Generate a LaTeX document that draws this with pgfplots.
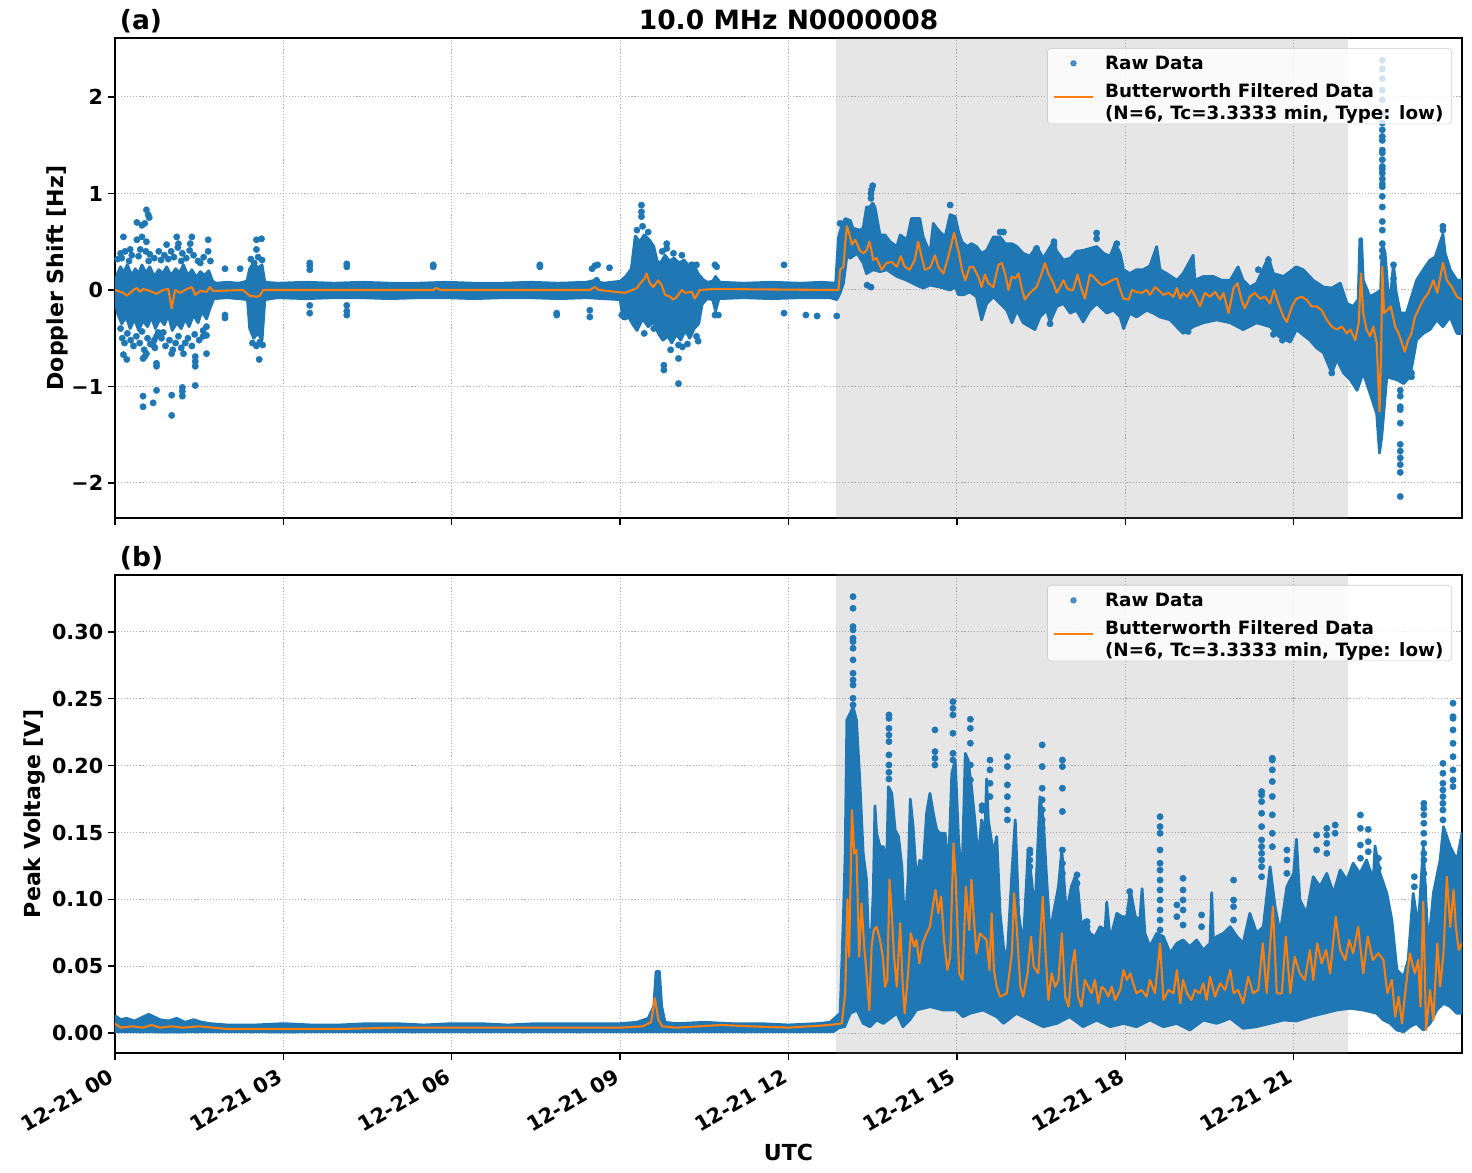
\documentclass[border=0pt]{standalone}
\usepackage{fontspec}
\setmainfont{DejaVu Sans}
\usepackage{pgfplots}
\pgfplotsset{compat=1.18}
\usepackage{pgfplotstable}

\definecolor{c0}{HTML}{1F77B4}
\definecolor{c1}{HTML}{FF7F0E}
\definecolor{gridc}{HTML}{B0B0B0}

\newcommand\tickfont{\fontsize{14.9pt}{17.9pt}\selectfont\bfseries}
\newcommand\labfont{\fontsize{15.9pt}{19pt}\selectfont\bfseries}
\newcommand\titfont{\fontsize{19.1pt}{23pt}\selectfont\bfseries}
\newcommand\legfont{\fontsize{13.2pt}{15.8pt}\selectfont\bfseries}

% Doppler shift: outline of the dense raw-data band
% (upper edge left to right, then lower edge right to left)
\pgfplotstableread{
x y
0.00 0.08
0.05 0.18
0.10 0.24
0.15 0.18
0.22 0.26
0.30 0.15
0.36 0.22
0.42 0.17
0.48 0.26
0.55 0.18
0.62 0.24
0.70 0.14
0.78 0.21
0.85 0.17
0.92 0.24
1.00 0.15
1.08 0.22
1.15 0.18
1.22 0.26
1.30 0.15
1.37 0.21
1.45 0.13
1.52 0.19
1.60 0.15
1.67 0.20
1.74 0.09
1.80 0.07
2.00 0.08
2.20 0.07
2.35 0.09
2.40 0.22
2.47 0.28
2.55 0.23
2.62 0.26
2.67 0.08
2.90 0.07
3.40 0.08
3.90 0.07
4.40 0.08
4.90 0.07
5.40 0.07
5.90 0.08
6.40 0.07
6.90 0.07
7.40 0.08
7.90 0.07
8.40 0.08
8.55 0.10
8.70 0.07
9.00 0.09
9.10 0.14
9.20 0.22
9.27 0.56
9.35 0.50
9.43 0.57
9.52 0.52
9.60 0.45
9.66 0.30
9.72 0.28
9.80 0.36
9.88 0.30
9.96 0.33
10.05 0.28
10.14 0.31
10.22 0.25
10.30 0.28
10.38 0.18
10.45 0.12
10.55 0.08
10.65 0.09
10.70 0.14
10.78 0.08
11.20 0.07
11.70 0.08
12.20 0.07
12.60 0.08
12.84 0.07
12.89 0.54
12.95 0.67
13.01 0.74
13.10 0.72
13.15 0.64
13.27 0.62
13.33 0.64
13.39 0.86
13.45 0.86
13.50 0.90
13.54 0.86
13.63 0.57
13.72 0.57
13.81 0.50
13.93 0.45
13.99 0.57
14.11 0.52
14.19 0.74
14.34 0.74
14.40 0.55
14.52 0.38
14.58 0.69
14.64 0.64
14.70 0.60
14.79 0.55
14.88 0.78
14.97 0.76
15.03 0.60
15.09 0.50
15.18 0.45
15.26 0.48
15.35 0.45
15.44 0.38
15.53 0.41
15.65 0.55
15.77 0.55
15.86 0.48
15.98 0.48
16.07 0.45
16.18 0.38
16.30 0.35
16.42 0.45
16.54 0.33
16.72 0.50
16.78 0.40
16.90 0.31
17.02 0.33
17.13 0.40
17.25 0.41
17.37 0.43
17.49 0.45
17.61 0.38
17.73 0.35
17.82 0.48
17.91 0.38
17.97 0.21
18.08 0.17
18.20 0.21
18.32 0.21
18.44 0.25
18.56 0.45
18.62 0.21
18.74 0.17
18.92 0.10
19.03 0.17
19.21 0.36
19.24 0.10
19.39 0.14
19.57 0.14
19.72 0.10
19.87 0.10
20.01 0.24
20.10 0.10
20.22 0.03
20.34 0.07
20.55 0.34
20.64 0.17
20.82 0.14
21.05 0.24
21.17 0.21
21.35 0.10
21.53 0.03
21.68 0.02
21.83 0.07
21.95 -0.14
22.06 -0.17
22.15 -0.10
22.18 0.53
22.21 0.53
22.24 0.10
22.36 -0.07
22.48 -0.03
22.55 0.00
22.58 0.48
22.63 0.38
22.68 0.00
22.72 -0.10
22.78 0.28
22.82 0.00
22.90 -0.24
23.01 -0.24
23.19 0.10
23.31 0.21
23.43 0.31
23.52 0.34
23.66 0.58
23.70 0.38
23.79 0.21
23.91 0.10
24.00 0.10
24.00 -0.45
23.91 -0.45
23.79 -0.28
23.66 -0.38
23.55 -0.31
23.43 -0.41
23.31 -0.45
23.19 -0.52
23.13 -0.72
23.07 -0.90
22.96 -0.97
22.84 -0.93
22.66 -0.90
22.57 -1.52
22.53 -1.69
22.48 -1.28
22.36 -1.07
22.24 -0.86
22.13 -1.04
22.01 -0.93
21.89 -0.86
21.77 -0.72
21.68 -0.86
21.53 -0.65
21.41 -0.60
21.29 -0.52
21.05 -0.41
20.94 -0.54
20.73 -0.48
20.58 -0.38
20.34 -0.34
20.10 -0.41
19.87 -0.34
19.63 -0.31
19.39 -0.34
19.21 -0.38
19.03 -0.45
18.80 -0.31
18.62 -0.28
18.50 -0.24
18.38 -0.21
18.20 -0.28
18.08 -0.24
17.97 -0.40
17.91 -0.28
17.79 -0.21
17.67 -0.24
17.49 -0.14
17.37 -0.21
17.25 -0.33
17.13 -0.21
17.02 -0.24
16.90 -0.14
16.78 -0.17
16.66 -0.33
16.60 -0.21
16.48 -0.28
16.39 -0.41
16.30 -0.38
16.18 -0.34
16.07 -0.21
15.98 -0.34
15.89 -0.21
15.77 -0.14
15.65 -0.07
15.53 -0.14
15.44 -0.31
15.35 -0.07
15.23 -0.02
15.12 -0.05
15.03 -0.05
14.97 0.03
14.88 0.00
14.70 0.03
14.52 0.05
14.40 0.02
14.28 0.05
14.11 0.10
13.93 0.14
13.75 0.21
13.63 0.19
13.51 0.21
13.39 0.17
13.33 0.28
13.22 0.38
13.10 0.33
13.04 0.35
12.98 0.07
12.92 -0.03
12.86 -0.10
12.74 -0.08
12.20 -0.08
11.70 -0.09
11.20 -0.08
10.76 -0.09
10.70 -0.22
10.65 -0.10
10.55 -0.09
10.46 -0.15
10.40 -0.35
10.32 -0.40
10.24 -0.50
10.16 -0.42
10.08 -0.52
10.00 -0.46
9.92 -0.55
9.85 -0.48
9.76 -0.52
9.68 -0.45
9.60 -0.33
9.50 -0.38
9.40 -0.30
9.30 -0.42
9.22 -0.35
9.12 -0.25
9.05 -0.30
9.00 -0.10
8.70 -0.09
8.40 -0.08
7.90 -0.09
7.40 -0.08
6.90 -0.08
6.40 -0.09
5.90 -0.08
5.40 -0.08
4.90 -0.09
4.40 -0.08
3.90 -0.08
3.40 -0.09
2.90 -0.08
2.67 -0.10
2.62 -0.52
2.55 -0.45
2.47 -0.50
2.40 -0.40
2.36 -0.10
2.20 -0.09
2.00 -0.08
1.76 -0.09
1.70 -0.18
1.63 -0.30
1.55 -0.22
1.48 -0.34
1.40 -0.26
1.32 -0.38
1.25 -0.30
1.18 -0.40
1.10 -0.34
1.02 -0.42
0.95 -0.26
0.88 -0.36
0.80 -0.30
0.72 -0.40
0.65 -0.28
0.58 -0.38
0.50 -0.32
0.42 -0.42
0.35 -0.30
0.27 -0.40
0.20 -0.28
0.12 -0.35
0.05 -0.25
0.00 -0.10
}\dopband

% Doppler shift: low-pass filtered series
\pgfplotstableread{
x y
0.00 0.00
0.15 -0.03
0.21 -0.06
0.33 0.00
0.39 0.02
0.45 -0.02
0.50 0.01
0.62 -0.01
0.74 -0.04
0.86 0.00
0.95 0.01
1.01 -0.19
1.07 0.00
1.16 -0.03
1.28 0.01
1.37 0.03
1.43 -0.05
1.52 -0.01
1.63 -0.02
1.69 0.03
1.75 -0.01
2.28 0.00
2.40 -0.06
2.52 -0.07
2.58 -0.06
2.64 0.00
5.67 0.00
5.72 0.02
5.80 0.00
8.46 0.00
8.55 0.03
8.62 0.00
9.09 -0.03
9.30 0.02
9.36 0.07
9.44 0.12
9.47 0.17
9.53 0.07
9.59 0.03
9.68 0.10
9.74 0.05
9.80 -0.05
9.89 -0.07
9.95 -0.10
10.01 -0.07
10.10 0.00
10.16 -0.03
10.28 -0.02
10.33 -0.09
10.42 0.00
10.69 0.01
12.74 0.00
12.89 0.00
12.92 0.21
12.98 0.24
13.01 0.48
13.04 0.66
13.10 0.55
13.13 0.47
13.19 0.52
13.27 0.41
13.33 0.38
13.39 0.41
13.44 0.50
13.48 0.40
13.51 0.31
13.57 0.33
13.66 0.21
13.75 0.28
13.84 0.29
13.93 0.24
14.00 0.35
14.07 0.24
14.16 0.21
14.25 0.31
14.31 0.50
14.37 0.35
14.43 0.21
14.52 0.23
14.61 0.36
14.67 0.24
14.76 0.17
14.85 0.35
14.95 0.59
15.03 0.40
15.09 0.21
15.15 0.10
15.23 0.24
15.29 0.24
15.38 0.14
15.44 0.03
15.50 0.16
15.56 0.07
15.65 0.03
15.74 0.26
15.80 0.28
15.86 0.17
15.92 0.00
15.98 0.14
16.04 0.12
16.10 0.17
16.15 0.03
16.21 -0.10
16.30 -0.03
16.42 0.03
16.51 0.17
16.57 0.28
16.63 0.17
16.72 0.07
16.78 -0.03
16.90 0.10
16.96 0.02
17.02 0.00
17.07 0.00
17.15 0.16
17.21 0.03
17.28 -0.09
17.37 0.16
17.43 0.14
17.49 0.10
17.58 0.05
17.67 0.07
17.76 0.10
17.85 0.12
17.91 0.00
17.97 -0.09
18.06 -0.10
18.12 0.00
18.20 -0.02
18.29 -0.03
18.38 0.00
18.44 -0.05
18.53 0.03
18.59 0.00
18.68 -0.05
18.77 -0.03
18.86 -0.07
18.92 0.02
18.98 -0.09
19.03 -0.03
19.10 -0.07
19.18 0.00
19.27 -0.09
19.33 -0.17
19.42 -0.03
19.51 -0.07
19.60 -0.02
19.69 -0.10
19.75 -0.03
19.84 -0.24
19.93 0.02
20.00 0.07
20.07 -0.10
20.13 -0.19
20.22 -0.07
20.31 -0.03
20.40 -0.09
20.49 -0.07
20.58 -0.14
20.65 0.00
20.73 -0.14
20.82 -0.28
20.88 -0.33
20.97 -0.17
21.05 -0.09
21.14 -0.07
21.23 -0.10
21.32 -0.17
21.41 -0.17
21.50 -0.21
21.59 -0.31
21.68 -0.38
21.77 -0.41
21.86 -0.38
21.95 -0.45
22.01 -0.41
22.10 -0.52
22.16 -0.34
22.20 0.17
22.24 -0.24
22.30 -0.41
22.36 -0.48
22.42 -0.38
22.48 -0.55
22.53 -1.26
22.56 -0.62
22.58 0.24
22.61 -0.24
22.67 -0.21
22.73 -0.17
22.81 -0.38
22.87 -0.45
22.93 -0.55
22.98 -0.64
23.04 -0.52
23.10 -0.45
23.16 -0.28
23.25 -0.17
23.31 -0.10
23.40 -0.03
23.49 0.10
23.56 -0.03
23.66 0.28
23.73 0.10
23.82 0.03
23.91 -0.07
24.00 -0.10
}\dopfilt

% Peak voltage: outline of the dense raw-data band
% (upper edge left to right, then lower edge right to left)
\pgfplotstableread{
x y
0.00 0.013
0.10 0.010
0.20 0.011
0.35 0.009
0.50 0.012
0.60 0.014
0.70 0.012
0.80 0.010
0.95 0.009
1.10 0.011
1.25 0.008
1.40 0.010
1.55 0.008
1.70 0.007
2.00 0.006
2.50 0.006
3.00 0.007
3.50 0.006
4.00 0.006
4.50 0.007
5.00 0.007
5.50 0.006
6.00 0.007
6.50 0.007
7.00 0.006
7.50 0.007
8.00 0.007
8.50 0.007
9.00 0.007
9.30 0.008
9.50 0.011
9.60 0.020
9.64 0.046
9.70 0.046
9.74 0.020
9.80 0.008
10.00 0.007
10.50 0.008
11.00 0.007
11.50 0.007
12.00 0.006
12.50 0.007
12.74 0.008
12.92 0.0147
12.98 0.0895
13.01 0.1344
13.04 0.2342
13.10 0.2392
13.15 0.2441
13.21 0.2342
13.27 0.1893
13.33 0.1344
13.39 0.1147
13.42 0.0770
13.48 0.0770
13.51 0.1045
13.54 0.1700
13.57 0.1494
13.63 0.1394
13.69 0.1394
13.75 0.1269
13.78 0.1843
13.84 0.1793
13.90 0.1519
13.96 0.1469
14.02 0.1244
14.07 0.0770
14.13 0.1147
14.17 0.1750
14.22 0.1544
14.28 0.1147
14.34 0.1294
14.40 0.1244
14.46 0.1644
14.52 0.1793
14.58 0.1644
14.64 0.1519
14.70 0.1494
14.79 0.1494
14.85 0.1219
14.91 0.1943
14.97 0.2042
15.03 0.1444
15.09 0.1147
15.15 0.2092
15.20 0.2042
15.26 0.1843
15.32 0.1594
15.38 0.1294
15.44 0.1594
15.50 0.1494
15.53 0.1900
15.56 0.1594
15.65 0.1344
15.71 0.1469
15.77 0.0895
15.83 0.0646
15.89 0.0521
15.98 0.1195
16.04 0.1594
16.10 0.0895
16.18 0.0646
16.27 0.1369
16.33 0.1147
16.39 0.0895
16.48 0.1768
16.54 0.1594
16.60 0.1147
16.66 0.0746
16.72 0.0895
16.81 0.1095
16.87 0.1369
16.95 0.0895
17.04 0.1095
17.13 0.1195
17.22 0.0795
17.28 0.0845
17.37 0.0746
17.46 0.0720
17.55 0.0795
17.64 0.0770
17.67 0.0980
17.73 0.0696
17.85 0.0895
17.94 0.0870
18.03 0.0870
18.09 0.1070
18.18 0.0870
18.26 0.0845
18.30 0.1080
18.35 0.0746
18.44 0.0646
18.56 0.0746
18.68 0.0721
18.80 0.0596
18.92 0.0671
19.03 0.0696
19.15 0.0646
19.27 0.0696
19.39 0.0621
19.51 0.0671
19.54 0.1050
19.57 0.0700
19.63 0.0721
19.75 0.0746
19.87 0.0795
19.99 0.0721
20.10 0.0671
20.22 0.0895
20.34 0.0746
20.46 0.0795
20.58 0.1244
20.67 0.0945
20.76 0.0746
20.88 0.1094
21.00 0.1194
21.05 0.1450
21.11 0.0995
21.23 0.0895
21.35 0.1169
21.47 0.1094
21.59 0.1194
21.71 0.1045
21.83 0.1219
21.95 0.1144
22.06 0.1270
22.18 0.1194
22.30 0.1294
22.42 0.1144
22.45 0.1400
22.54 0.1194
22.66 0.1045
22.75 0.0845
22.84 0.0471
22.96 0.0421
23.04 0.0546
23.13 0.1045
23.22 0.0795
23.31 0.1394
23.40 0.0646
23.49 0.1045
23.61 0.1294
23.67 0.1543
23.79 0.1394
23.91 0.1294
24.00 0.1494
24.00 0.0147
23.91 0.0147
23.79 0.0197
23.67 0.0222
23.55 0.0172
23.43 0.0072
23.31 0.0022
23.19 0.0072
23.07 0.0047
22.96 0.0010
22.84 0.0022
22.72 0.0072
22.60 0.0097
22.48 0.0147
22.24 0.0172
22.01 0.0185
21.77 0.0172
21.53 0.0147
21.29 0.0122
21.05 0.0090
20.82 0.0097
20.58 0.0072
20.34 0.0047
20.10 0.0035
19.87 0.0110
19.63 0.0072
19.39 0.0097
19.15 0.0022
18.92 0.0072
18.68 0.0047
18.44 0.0097
18.20 0.0047
17.97 0.0072
17.73 0.0047
17.49 0.0097
17.25 0.0047
17.01 0.0122
16.78 0.0072
16.54 0.0047
16.30 0.0097
16.06 0.0147
15.83 0.0072
15.71 0.0122
15.47 0.0172
15.23 0.0147
15.11 0.0122
14.99 0.0172
14.76 0.0172
14.52 0.0197
14.28 0.0172
14.16 0.0097
14.04 0.0047
13.93 0.0147
13.69 0.0072
13.57 0.0097
13.45 0.0047
13.33 0.0072
13.22 0.0172
13.10 0.0147
13.00 0.0047
12.90 0.0040
12.80 0.0010
12.00 0.0009
11.00 0.0010
10.00 0.0009
9.00 0.0010
8.00 0.0010
7.00 0.0009
6.00 0.0010
5.00 0.0009
4.00 0.0010
3.00 0.0008
2.00 0.0010
1.00 0.0008
0.00 0.0010
}\volband

% Peak voltage: low-pass filtered series
\pgfplotstableread{
x y
0.00 0.0070
0.10 0.0040
0.30 0.0050
0.50 0.0040
0.65 0.0060
0.80 0.0040
1.00 0.0050
1.20 0.0040
1.50 0.0050
2.00 0.0030
3.00 0.0030
4.00 0.0030
5.00 0.0040
6.00 0.0040
7.00 0.0040
8.00 0.0040
9.00 0.0040
9.40 0.0050
9.55 0.0080
9.62 0.0260
9.68 0.0100
9.75 0.0050
10.00 0.0040
10.80 0.0060
11.30 0.0050
12.00 0.0040
12.74 0.0060
12.95 0.0072
13.01 0.0297
13.05 0.1000
13.08 0.0571
13.13 0.1668
13.17 0.1344
13.21 0.1369
13.26 0.0571
13.30 0.0970
13.35 0.0646
13.39 0.0446
13.44 0.0172
13.48 0.0646
13.52 0.0770
13.57 0.0795
13.63 0.0696
13.68 0.0571
13.72 0.0346
13.76 0.0397
13.80 0.1147
13.84 0.0895
13.88 0.0571
13.93 0.0346
13.99 0.0821
14.03 0.0397
14.07 0.0147
14.13 0.0446
14.18 0.0746
14.24 0.0646
14.28 0.0696
14.33 0.0521
14.39 0.0671
14.46 0.0746
14.52 0.0795
14.57 0.0945
14.62 0.1070
14.67 0.0895
14.72 0.1020
14.77 0.0696
14.83 0.0471
14.88 0.0571
14.94 0.1419
14.98 0.1147
15.04 0.0446
15.10 0.0397
15.16 0.1095
15.22 0.0770
15.26 0.1147
15.30 0.0870
15.35 0.0596
15.41 0.0746
15.47 0.0720
15.53 0.0696
15.58 0.0471
15.62 0.0895
15.66 0.0471
15.71 0.0346
15.77 0.0272
15.89 0.0297
15.98 0.0596
16.02 0.1045
16.07 0.0770
16.13 0.0346
16.18 0.0272
16.26 0.0446
16.32 0.0720
16.37 0.0496
16.45 0.0446
16.53 0.1020
16.57 0.0671
16.63 0.0247
16.69 0.0446
16.75 0.0346
16.81 0.0397
16.87 0.0746
16.93 0.0272
16.99 0.0197
17.05 0.0496
17.10 0.0621
17.16 0.0272
17.22 0.0197
17.28 0.0397
17.34 0.0346
17.40 0.0297
17.46 0.0397
17.52 0.0222
17.58 0.0346
17.64 0.0322
17.70 0.0272
17.76 0.0346
17.82 0.0247
17.91 0.0322
17.97 0.0471
18.03 0.0397
18.09 0.0446
18.14 0.0372
18.20 0.0297
18.29 0.0322
18.38 0.0272
18.44 0.0397
18.53 0.0297
18.62 0.0671
18.68 0.0247
18.77 0.0322
18.86 0.0297
18.92 0.0471
18.98 0.0222
19.03 0.0397
19.10 0.0297
19.18 0.0247
19.24 0.0322
19.33 0.0297
19.39 0.0372
19.45 0.0247
19.51 0.0421
19.60 0.0272
19.69 0.0372
19.78 0.0322
19.87 0.0471
19.93 0.0297
20.01 0.0322
20.10 0.0222
20.19 0.0421
20.28 0.0297
20.37 0.0322
20.45 0.0671
20.52 0.0297
20.63 0.0945
20.70 0.0297
20.79 0.0297
20.86 0.0721
20.94 0.0297
21.02 0.0571
21.11 0.0446
21.20 0.0397
21.29 0.0621
21.35 0.0397
21.42 0.0671
21.50 0.0521
21.58 0.0621
21.65 0.0446
21.75 0.0870
21.83 0.0621
21.92 0.0546
21.99 0.0696
22.06 0.0596
22.15 0.0795
22.24 0.0446
22.32 0.0721
22.41 0.0546
22.51 0.0596
22.60 0.0546
22.67 0.0297
22.75 0.0397
22.81 0.0122
22.87 0.0272
22.93 0.0072
22.98 0.0272
23.07 0.0596
23.16 0.0446
23.22 0.0546
23.26 0.0197
23.31 0.0982
23.36 0.0022
23.43 0.0322
23.49 0.0097
23.56 0.0671
23.61 0.0347
23.67 0.0596
23.73 0.1169
23.79 0.0795
23.85 0.1070
23.89 0.0795
23.94 0.0621
24.00 0.0671
}\volfilt

\pgfplotsset{
  panel/.style={
    scale only axis, width=969.84pt,
    xmin=0, xmax=24, xtick={0,3,...,21},
    axis line style={line width=1.1pt},
    grid=major,
    major grid style={gridc, line width=0.7pt, dash pattern=on 0.8pt off 1.4pt},
    tick align=outside, xtick pos=left, ytick pos=left,
    major tick length=5pt,
    every tick/.style={black, line width=1pt},
    tick label style={font=\tickfont},
    label style={font=\labfont},
    legend cell align=left,
    legend style={at={(rel axis cs:1,1)}, anchor=north east,
      xshift=-7.2pt, yshift=-7.2pt,
      draw=black!20, fill=white, fill opacity=0.8, text opacity=1,
      rounded corners=2.5pt, font=\legfont,
      inner xsep=4pt, inner ysep=3.3pt, row sep=4pt,
      /tikz/every odd column/.append style={column sep=6pt}},
  },
  band/.style={fill=c0, draw=c0, line width=2pt, line join=round, forget plot},
  raw/.style={only marks, mark=*, mark size=2.3pt, c0,
    mark options={fill=c0, draw=c0, line width=0.3pt}, forget plot},
  filt/.style={c1, line width=1.5pt, line join=round, forget plot},
  span/.style={fill=gray, fill opacity=0.2, draw=none, forget plot},
}

\newcommand\legendrows{%
  \addlegendimage{legend image code/.code={\fill[c0] (14pt,0pt) circle (2pt);}}
  \addlegendentry{Raw Data}
  \addlegendimage{legend image code/.code={\draw[c1, line width=1.5pt] (0pt,1.5pt) -- (28pt,1.5pt);}}
  \addlegendentry{\begin{tabular}{@{}l@{}}Butterworth Filtered Data\\(N=6, Tc=3.3333 min, Type: low)\rule[-13.5pt]{0pt}{13.5pt}\end{tabular}}
}

\begin{document}
\begin{tikzpicture}
\useasboundingbox (-82.8pt,27.36pt) rectangle (977.04pt,-816.48pt);

% ===================== (a) Doppler shift =====================
\begin{axis}[panel, name=top, at={(0pt,0pt)}, anchor=north west,
  height=345.6pt, ymin=-2.363, ymax=2.611,
  ytick={-2,-1,0,1,2}, yticklabels={−2,−1,0,1,2},
  xticklabels={},
  ylabel={Doppler Shift [Hz]},
  ylabel style={yshift=-4.5pt}]

\addplot[span] coordinates {(12.85,-3) (21.97,-3) (21.97,3) (12.85,3)};

\addplot[band] table {\dopband};

\addplot[raw] coordinates {
(0.15,0.55)(0.56,0.83)(0.59,0.78)(0.61,0.75)(0.39,0.70)(0.48,0.67)(0.53,0.69)
(0.48,0.55)(0.56,0.50)(0.39,0.52)(0.92,0.47)(1.13,0.48)(1.34,0.48)(1.37,0.55)
(1.10,0.55)(1.66,0.52)(2.52,0.52)(2.61,0.53)(2.52,0.42)(1.96,0.22)(2.23,0.22)
(0.10,0.38)(0.12,0.33)(0.18,0.40)(0.27,0.42)(0.30,0.36)(0.42,0.35)(0.45,0.42)
(0.55,0.40)(0.62,0.37)(0.70,0.33)(0.78,0.40)(0.82,0.31)(0.88,0.36)(1.00,0.40)
(1.05,0.34)(1.12,0.44)(1.20,0.38)(1.27,0.33)(1.33,0.41)(1.40,0.36)(1.48,0.30)
(1.58,0.34)(1.66,0.40)(1.70,0.30)(0.25,0.30)(0.60,0.30)(0.95,0.32)(1.18,0.30)
(1.52,0.28)(0.05,0.32)
(2.42,0.32)(2.48,0.28)(2.55,0.34)(2.62,0.31)(2.45,-0.55)(2.52,-0.58)(2.58,-0.54)
(2.63,-0.57)(2.57,-0.72)
(0.15,-0.67)(0.21,-0.72)(0.50,-0.71)(0.53,-0.69)(0.56,-0.66)(0.74,-0.76)(0.74,-0.79)
(0.68,-0.57)(0.71,-0.60)(1.01,-0.66)(1.22,-0.66)(1.43,-0.69)(1.43,-0.74)(1.43,-0.79)
(1.63,-0.66)(0.50,-1.10)(0.50,-1.21)(0.68,-1.17)(0.74,-1.04)(1.01,-1.09)(1.01,-1.30)
(1.20,-1.01)(1.20,-1.05)(1.20,-1.10)(1.43,-0.99)(1.63,-0.47)(1.57,-0.48)(0.74,-0.48)
(0.80,-0.45)(0.86,-0.44)(1.96,-0.26)(1.96,-0.29)
(0.10,-0.40)(0.13,-0.50)(0.17,-0.55)(0.22,-0.45)(0.28,-0.52)(0.33,-0.58)(0.38,-0.48)
(0.44,-0.55)(0.48,-0.43)(0.52,-0.62)(0.58,-0.50)(0.63,-0.56)(0.70,-0.52)(0.77,-0.44)
(0.83,-0.50)(0.90,-0.58)(0.97,-0.52)(1.03,-0.62)(1.08,-0.55)(1.13,-0.48)(1.18,-0.60)
(1.25,-0.55)(1.30,-0.50)(1.37,-0.58)(1.42,-0.46)(1.50,-0.52)(1.57,-0.42)(1.63,-0.38)
(3.47,0.28)(3.47,0.21)(3.47,0.25)(3.47,-0.16)(3.47,-0.24)(4.13,0.24)(4.13,0.27)
(4.13,-0.16)(4.13,-0.22)(4.13,-0.26)(5.67,0.24)(5.67,0.26)(7.57,0.24)(7.57,0.26)
(7.87,-0.26)(7.87,-0.24)(8.46,-0.21)(8.46,-0.28)(8.50,0.22)(8.55,0.25)(8.60,0.26)
(8.81,0.23)(8.58,0.10)
(9.03,-0.26)(9.09,-0.28)(9.12,-0.17)(9.38,0.88)(9.38,0.81)(9.38,0.76)(9.40,0.66)
(9.30,0.62)(9.50,0.60)(9.83,0.48)(9.83,0.43)(9.75,0.40)(9.95,0.38)(10.10,0.36)
(10.27,0.26)(10.36,0.26)(10.42,0.12)(9.43,-0.45)(10.04,-0.57)(10.11,-0.59)
(9.78,-0.78)(9.78,-0.83)(10.04,-0.71)(10.04,-0.97)(10.36,-0.48)(10.39,-0.53)
(10.69,0.26)(10.72,0.24)(10.69,-0.26)(10.75,-0.26)(9.60,-0.40)(9.90,-0.62)(10.20,-0.56)
(11.92,0.26)(11.92,-0.24)(12.31,-0.26)(12.51,-0.27)(12.86,-0.27)(12.92,0.69)
(13.47,0.95)(13.47,1.00)(13.48,1.04)(13.50,1.08)(14.88,0.88)(15.77,0.60)(15.83,0.60)
(16.42,0.43)(16.73,0.50)(16.73,0.47)(17.49,0.59)(17.49,0.53)(17.85,0.48)(13.40,0.05)
(13.47,0.03)(14.82,0.03)(16.66,-0.35)(19.18,-0.36)(19.12,-0.43)(20.64,-0.46)
(20.80,-0.52)(23.10,-0.86)(23.10,-0.90)(21.68,-0.74)(21.68,-0.86)(20.55,0.31)
(20.37,0.21)(22.78,0.26)(22.78,0.12)(23.66,0.66)(23.66,0.62)
(22.58,2.38)(22.58,2.29)(22.58,2.19)(22.58,2.07)(22.58,1.97)(22.58,1.83)(22.58,1.73)
(22.58,1.66)(22.58,1.59)(22.58,1.55)(22.58,1.45)(22.58,1.42)(22.58,1.35)(22.58,1.28)
(22.58,1.25)(22.58,1.21)(22.58,1.15)(22.58,1.10)(22.58,1.07)(22.58,0.97)(22.58,0.86)
(22.58,0.71)(22.58,0.62)(22.58,0.48)(22.58,0.41)(22.58,0.34)
(22.90,-1.04)(22.90,-1.10)(22.90,-1.21)(22.90,-1.24)(22.90,-1.38)(22.90,-1.60)
(22.90,-1.67)(22.90,-1.74)(22.90,-1.81)(22.90,-1.89)(22.90,-2.14)
};

\addplot[filt] table {\dopfilt};
\legendrows
\end{axis}
\node[anchor=base west, font=\titfont, yshift=5.8pt] at (top.north west) {(a)};
\node[anchor=base, font=\titfont, yshift=5.8pt] at (top.north) {10.0 MHz N0000008};

% ===================== (b) Peak voltage =====================
\begin{axis}[panel, name=bot, at={(0pt,-386.64pt)}, anchor=north west,
  height=344.16pt, ymin=-0.01496, ymax=0.3426,
  ytick={0,0.05,0.10,0.15,0.20,0.25,0.30},
  yticklabels={0.00,0.05,0.10,0.15,0.20,0.25,0.30},
  xticklabels={12-21 00,12-21 03,12-21 06,12-21 09,12-21 12,12-21 15,12-21 18,12-21 21},
  xticklabel style={rotate=30, anchor=north east, xshift=-4pt, yshift=1pt},
  ylabel={Peak Voltage [V]},
  ylabel style={yshift=-2pt},
  xlabel={UTC}]

\addplot[span] coordinates {(12.85,-1) (21.97,-1) (21.97,1) (12.85,1)};

\addplot[band] table {\volband};

\addplot[raw] coordinates {
(13.15,0.3264)(13.15,0.3177)(13.15,0.3040)(13.15,0.3015)(13.15,0.2953)(13.15,0.2928)
(13.15,0.2878)(13.15,0.2791)(13.15,0.2691)(13.15,0.2641)(13.15,0.2603)(13.15,0.2504)
(13.15,0.2454)
(13.79,0.2379)(13.79,0.2354)(13.79,0.2279)(13.79,0.2229)(13.79,0.2180)(13.79,0.2080)
(13.79,0.2005)(13.79,0.1950)(13.79,0.1900)
(14.61,0.2267)(14.61,0.2105)(14.61,0.2055)(14.61,0.2005)
(14.93,0.2479)(14.93,0.2429)(14.93,0.2379)(14.93,0.2242)(14.93,0.2092)(14.93,0.2042)
(15.24,0.2347)(15.24,0.2279)(15.24,0.2168)(15.24,0.2005)(15.24,0.1893)
(15.45,0.1666)(15.45,0.1700)
(15.59,0.2042)(15.59,0.1968)(15.59,0.1868)(15.59,0.1768)
(15.90,0.2067)(15.90,0.1993)(15.90,0.1856)(15.90,0.1768)(15.90,0.1669)(15.90,0.1594)
(16.30,0.1369)(16.30,0.1344)(16.30,0.1294)(16.30,0.1244)
(16.52,0.2155)(16.52,0.1993)(16.52,0.1831)(16.52,0.1744)(16.52,0.1669)(16.52,0.1594)
(16.52,0.1532)
(16.88,0.2042)(16.88,0.1993)(16.88,0.1831)(16.88,0.1657)(16.88,0.1369)(16.88,0.1269)
(16.88,0.1195)
(17.14,0.1183)(17.14,0.1120)(17.32,0.0833)(17.32,0.0795)(18.08,0.1058)(18.08,0.0933)
(18.62,0.1618)(18.62,0.1544)(18.62,0.1494)(18.62,0.1369)(18.62,0.1270)(18.62,0.1219)
(18.62,0.1144)(18.62,0.1070)(18.62,0.0995)(18.62,0.0920)(18.62,0.0845)(18.62,0.0771)
(19.03,0.1157)(19.03,0.1070)(19.03,0.0995)(19.03,0.0920)(19.03,0.0808)
(18.92,0.0958)(18.92,0.0870)(19.36,0.0883)(19.36,0.0795)
(19.93,0.1144)(19.93,0.0995)(19.93,0.0945)(19.93,0.0845)
(20.43,0.1806)(20.43,0.1781)(20.43,0.1731)(20.43,0.1644)(20.43,0.1544)(20.43,0.1444)
(20.43,0.1394)(20.43,0.1344)(20.43,0.1294)(20.43,0.1244)(20.43,0.1169)
(20.62,0.2055)(20.62,0.2042)(20.62,0.1968)(20.62,0.1881)(20.62,0.1769)(20.62,0.1632)
(20.62,0.1494)(20.62,0.1394)
(20.88,0.1369)(20.88,0.1294)(20.88,0.1194)
(21.41,0.1481)(21.41,0.1369)
(21.59,0.1531)(21.59,0.1481)(21.59,0.1419)(21.59,0.1344)
(21.74,0.1556)(21.74,0.1494)
(22.19,0.1631)(22.19,0.1531)(22.19,0.1406)(22.19,0.1307)
(22.33,0.1523)(22.33,0.1431)(22.33,0.1356)
(22.51,0.1307)(22.51,0.1232)
(23.15,0.1169)(23.15,0.1094)
(23.32,0.1718)(23.32,0.1681)(23.32,0.1631)(23.32,0.1569)(23.32,0.1494)(23.32,0.1419)
(23.32,0.1344)(23.32,0.1294)(23.32,0.1194)(23.32,0.1094)
(23.66,0.2017)(23.66,0.1943)(23.66,0.1868)(23.66,0.1818)(23.66,0.1768)(23.66,0.1718)
(23.66,0.1668)(23.66,0.1594)
(23.84,0.2467)(23.84,0.2366)(23.84,0.2354)(23.84,0.2267)(23.84,0.2167)(23.84,0.2067)
(23.84,0.1968)(23.84,0.1893)(23.84,0.1843)
};

\addplot[filt] table {\volfilt};
\legendrows
\end{axis}
\node[anchor=base west, font=\titfont, yshift=5.8pt] at (bot.north west) {(b)};
\end{tikzpicture}
\end{document}
